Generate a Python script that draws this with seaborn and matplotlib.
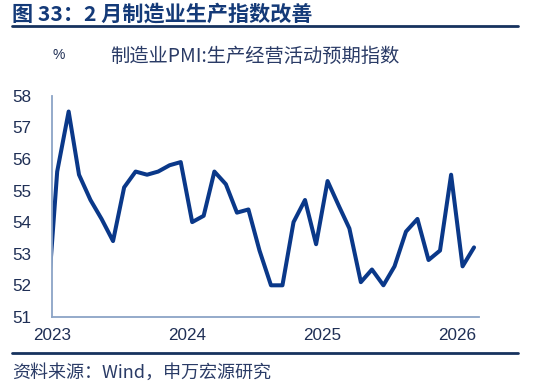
import matplotlib
matplotlib.use("Agg")
import matplotlib.pyplot as plt
import matplotlib.dates as mdates
import pandas as pd
import seaborn as sns

# 制造业PMI:生产经营活动预期指数, monthly (plotted mid-month)
months = pd.date_range("2022-12-01", "2026-02-01", freq="MS") + pd.Timedelta(days=14)
values = [50.6,
          55.6, 57.5, 55.5, 54.7, 54.1, 53.4, 55.1, 55.6, 55.5, 55.6, 55.8, 55.9,
          54.0, 54.2, 55.6, 55.2, 54.3, 54.4, 53.1, 52.0, 52.0, 54.0, 54.7, 53.3,
          55.3, 54.5, 53.8, 52.1, 52.5, 52.0, 52.6, 53.7, 54.1, 52.8, 53.1, 55.5,
          52.6, 53.2]
year_ticks = ["2023", "2024", "2025", "2026"]
y_ticks = [51, 52, 53, 54, 55, 56, 57, 58]

title = "图 33：2 月制造业生产指数改善"
series_name = "制造业PMI:生产经营活动预期指数"
source = "资料来源：Wind，申万宏源研究"

df = pd.DataFrame({"date": months, "value": values})

sns.set_style("white")
plt.rcParams["font.family"] = ["Liberation Sans", "Noto Sans CJK SC", "DejaVu Sans"]
cjk = ["Noto Sans CJK SC", "DejaVu Sans"]

navy = "#0a3889"
axis_col = "#8ba4c6"
text_col = "#1f2f55"

fig = plt.figure(figsize=(5.34, 3.86), dpi=100)
ax = fig.add_axes([0.0974, 0.179, 0.8, 0.573])

sns.lineplot(data=df, x="date", y="value", ax=ax, color=navy, linewidth=2.9)

ax.set_xlim(pd.Timestamp("2023-01-01"), pd.Timestamp("2026-03-01"))
ax.set_ylim(51, 58)
ax.set_yticks(y_ticks)
ax.set_xticks([pd.Timestamp(y + "-01-01") for y in year_ticks])
ax.xaxis.set_major_formatter(mdates.DateFormatter("%Y"))
ax.set_xlabel("")
ax.set_ylabel("")

for s in ["top", "right"]:
    ax.spines[s].set_visible(False)
for s in ["left", "bottom"]:
    ax.spines[s].set_color(axis_col)
    ax.spines[s].set_linewidth(1.3)
ax.tick_params(axis="both", colors=axis_col, labelcolor=text_col,
               labelsize=12.3, length=4, width=1.2, direction="out")
ax.tick_params(axis="x", pad=4)
ax.tick_params(axis="y", pad=11)

fig.text(0.022, 0.963, title, family=cjk, fontsize=15.2, fontweight="bold",
         color="#143a78", va="center", ha="left")
fig.add_artist(plt.Line2D([0.022, 0.97], [0.932, 0.932], color="#16325e",
                          linewidth=2))
fig.text(0.099, 0.858, "%", fontsize=10, color=text_col, va="center", ha="left")
fig.text(0.206, 0.854, series_name, family=cjk, fontsize=13.9, color="#2a3b66",
         va="center", ha="left")
fig.add_artist(plt.Line2D([0.022, 0.97], [0.086, 0.086], color="#16325e",
                          linewidth=2))
fig.text(0.022, 0.033, source, family=cjk, fontsize=13, color="#2a3b66",
         va="center", ha="left")

fig.savefig("out.png", dpi=100)
